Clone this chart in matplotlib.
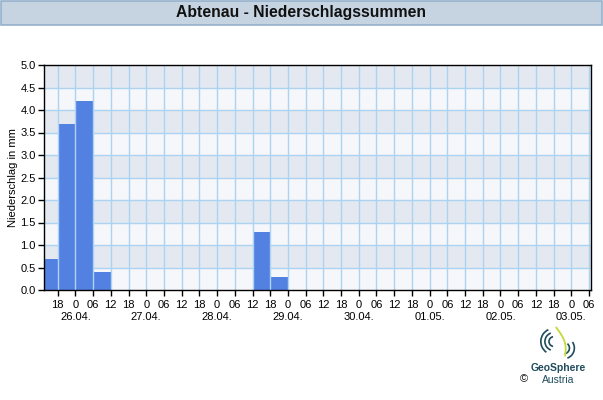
import matplotlib
matplotlib.use("Agg")
import matplotlib.pyplot as plt
import numpy as np
import pandas as pd
from matplotlib.patches import Rectangle, Arc

# ---- data ----
title = "Abtenau - Niederschlagssummen"
ylabel = "Niederschlag in mm"
period_start = ["2025-04-25 12:00", "2025-04-25 18:00", "2025-04-26 00:00",
                "2025-04-26 06:00", "2025-04-28 12:00", "2025-04-28 18:00"]
precip_mm = [0.7, 3.7, 4.2, 0.4, 1.3, 0.3]
period_hours = 6
x_start = "2025-04-25 13:22"
x_end = "2025-05-03 06:40"
date_labels = ["26.04.", "27.04.", "28.04.", "29.04.", "30.04.", "01.05.", "02.05.", "03.05."]
y_ticks = [0.0, 0.5, 1.0, 1.5, 2.0, 2.5, 3.0, 3.5, 4.0, 4.5, 5.0]

plt.rcParams['font.family'] = ['Liberation Sans', 'DejaVu Sans']

ref = pd.Timestamp("2025-04-25 00:00")
def hrs(t):
    return (pd.Timestamp(t) - ref) / pd.Timedelta(hours=1)

fig = plt.figure(figsize=(6.03, 4.0), dpi=100)
fig.patch.set_facecolor("white")

# title bar
tb = fig.add_axes([0, 0, 1, 1], zorder=-5)
tb.set_xlim(0, 603); tb.set_ylim(400, 0); tb.axis("off")
tb.add_patch(Rectangle((0.5, 0.5), 601.5, 24.5, facecolor="#c6d4e1", edgecolor="#94b1cc", lw=1.2))
tb.text(301, 13, title, ha="center", va="center", fontsize=11.3, fontweight="bold", color="#111111")

ax = fig.add_axes([44/603, 1-290/400, (591-44)/603, (290-65)/400])
x0, x1 = hrs(x_start), hrs(x_end)
ax.set_xlim(x0, x1)
ax.set_ylim(0, 5.0)

# background bands
for i in range(len(y_ticks) - 1):
    col = "#f5f7fa" if i % 2 == 0 else "#e4e9f1"
    ax.axhspan(y_ticks[i], y_ticks[i+1], color=col, zorder=0, lw=0)

xt = np.arange(np.ceil(x0/6)*6, x1 + 0.01, 6)
for x in xt:
    ax.axvline(x, color="#acd3f2", lw=1.0, zorder=3)
for y in y_ticks[1:-1]:
    ax.axhline(y, color="#acd3f2", lw=1.0, zorder=1)

starts = [hrs(t) for t in period_start]
ax.bar(starts, precip_mm, width=period_hours, align="edge", color="#5381e2",
       edgecolor="none", zorder=2)

ax.set_xticks(xt)
ax.set_xticklabels([("0" if int(h) % 24 == 0 else f"{int(h)%24:02d}") for h in xt], fontsize=8)
ax.set_yticks(y_ticks)
ax.set_yticklabels([f"{v:.1f}" for v in y_ticks], fontsize=8)
ax.tick_params(axis="both", length=4, width=1, color="black", pad=2, direction="out")
ax.tick_params(axis="x", pad=3)
for s in ax.spines.values():
    s.set_color("black"); s.set_linewidth(1.0)
    s.set_zorder(4)
ax.set_ylabel(ylabel, fontsize=8)
ax.yaxis.set_label_coords(-0.048, 0.5)

for i, lab in enumerate(date_labels):
    ax.text(24*(i+1), -0.48, lab, ha="center", va="top", fontsize=8,
            transform=ax.transData, clip_on=False)

# logo
lg = fig.add_axes([538/603, 1-362/400, 40/603, 36/400])
lg.set_xlim(-1.2, 1.2); lg.set_ylim(-1.1, 1.1); lg.axis("off"); lg.set_aspect("equal")
teal = "#1f4b5c"
for r, a1, a2 in [(0.3, 100, 260), (0.55, 110, 250), (0.8, 115, 235)]:
    lg.add_patch(Arc((-0.25, 0.15), 2*r, 2*r, theta1=a1, theta2=a2, color=teal, lw=1.2))
for r, a1, a2 in [(0.35, -80, 50), (0.65, -70, 35)]:
    lg.add_patch(Arc((0.35, -0.25), 2*r, 2*r, theta1=a1, theta2=a2, color=teal, lw=1.2))
tt = np.linspace(0, 1, 30)
lg.plot(-0.1 + 0.5*tt + 0.25*np.sin(tt*3), 1.0 - 1.7*tt, color="#c5d93a", lw=1.3)
fig.text(558/603, 1-368/400, "GeoSphere", ha="center", va="center", fontsize=7.5,
         fontweight="bold", color=teal)
fig.text(558/603, 1-380/400, "Austria", ha="center", va="center", fontsize=7.5, color=teal)
fig.text(524/603, 1-379/400, "©", ha="center", va="center", fontsize=8, color="#111111")

fig.savefig("out.png", dpi=100)
